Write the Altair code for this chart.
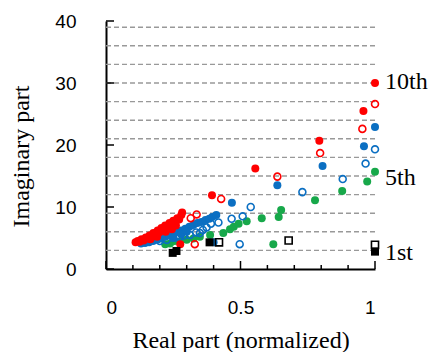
import altair as alt
import pandas as pd

# ---- data ----
red_filled_x = [0.110, 0.118, 0.125, 0.132, 0.140, 0.148, 0.155, 0.162, 0.165, 0.170, 0.176, 0.184,
                0.190, 0.192, 0.198, 0.206, 0.212, 0.220, 0.222, 0.228, 0.236, 0.243, 0.245, 0.250,
                0.258, 0.260, 0.265, 0.272, 0.280, 0.283, 0.276, 0.394, 0.555, 0.793, 0.957, 1.0]
red_filled_y = [4.3, 4.5, 4.4, 4.8, 4.6, 5.1, 4.9, 5.4, 4.8, 5.2, 5.8, 5.5,
                5.2, 6.2, 5.9, 6.6, 6.3, 7.0, 6.0, 6.7, 7.4, 7.1, 6.4, 7.8,
                7.5, 7.0, 8.2, 8.0, 8.7, 9.1, 4.0, 11.9, 16.2, 20.7, 25.5, 30.0]

red_open_x = [0.330, 0.315, 0.337, 0.428, 0.637, 0.796, 0.953, 1.0]
red_open_y = [4.0, 8.2, 8.8, 11.3, 14.9, 18.7, 22.6, 26.6]

blue_filled_x = [0.130, 0.145, 0.160, 0.175, 0.190, 0.205, 0.220, 0.235, 0.250, 0.265, 0.280, 0.295,
                 0.310, 0.325, 0.340, 0.355, 0.370, 0.384, 0.395, 0.410, 0.280, 0.250, 0.300, 0.400,
                 0.468, 0.637, 0.805, 0.959, 1.0]
blue_filled_y = [4.1, 4.2, 4.3, 4.5, 4.7, 4.9, 5.2, 5.4, 5.7, 6.0, 6.2, 6.5,
                 6.8, 7.1, 7.4, 7.6, 7.9, 8.1, 8.4, 8.7, 5.6, 5.0, 6.0, 4.3,
                 10.7, 13.5, 16.6, 19.8, 22.9]

blue_open_x = [0.200, 0.226, 0.260, 0.275, 0.290, 0.312, 0.335, 0.349, 0.360, 0.374, 0.390, 0.418,
               0.467, 0.497, 0.508, 0.538, 0.730, 0.880, 0.965, 1.0]
blue_open_y = [4.5, 4.7, 5.1, 5.2, 5.4, 5.5, 5.9, 5.8, 6.3, 6.7, 7.3, 7.5,
               8.1, 4.0, 8.5, 10.0, 12.4, 14.5, 17.0, 19.3]

green_filled_x = [0.220, 0.238, 0.255, 0.275, 0.300, 0.325, 0.349, 0.387, 0.436, 0.461, 0.475, 0.493,
                  0.523, 0.579, 0.622, 0.642, 0.651, 0.777, 0.878, 0.971, 1.0]
green_filled_y = [4.0, 4.1, 4.5, 4.4, 4.7, 4.9, 5.2, 5.5, 5.8, 6.4, 6.8, 7.3,
                  7.7, 8.2, 4.0, 8.4, 9.5, 11.1, 12.6, 14.1, 15.7]

black_filled_x = [0.248, 0.262, 0.385, 1.0]
black_filled_y = [2.6, 2.9, 4.3, 2.8]

black_open_x = [0.420, 0.679, 1.0]
black_open_y = [4.3, 4.6, 3.9]

grid_y = [3, 6, 9, 12, 15, 18, 21, 24, 27, 30, 33, 36, 39]
x_major = [0, 0.5, 1]
x_minor = [0.1, 0.2, 0.3, 0.4, 0.6, 0.7, 0.8, 0.9]
y_major = [0, 10, 20, 30, 40]

label_text = ["10th", "5th", "1st"]
label_y = [30.1, 14.6, 2.6]
label_x = [1.0, 1.0, 1.0]

W, H = 269, 248
SANS = "Liberation Sans"
SERIF = "Liberation Serif"
RED, BLUE, GREEN = "#ff0000", "#0b6fc2", "#17a84a"

xs = alt.Scale(domain=[0, 1], nice=False, zero=False)
ys = alt.Scale(domain=[0, 40], nice=False, zero=False)

def df(x, y):
    return pd.DataFrame({"x": x, "y": y})

xax = alt.Axis(values=x_major, labelExpr="'' + datum.value", ticks=False, grid=False,
               domainColor="black", domainWidth=2, labelFont=SANS, labelFontSize=19,
               labelColor="black", labelPadding=29, title="Real part (normalized)",
               titleFont=SERIF, titleFontSize=24, titleFontWeight="normal", titleColor="black",
               titleBaseline="alphabetic", titleY=78, titleX=W / 2, titleAlign="center")
yax = alt.Axis(values=y_major, labelExpr="'' + datum.value", ticks=False, grid=False,
               domainColor="black", domainWidth=2, labelFont=SANS, labelFontSize=19,
               labelColor="black", labelPadding=30, title="Imaginary part", titleFont=SERIF,
               titleFontSize=24, titleFontWeight="normal", titleColor="black", titleAngle=270,
               titleBaseline="alphabetic", titleX=-78, titleY=135, titleAlign="center")

def X(f):
    return alt.X(f, scale=xs, axis=xax)

def Y(f):
    return alt.Y(f, scale=ys, axis=yax)

grid = alt.Chart(pd.DataFrame({"g": grid_y})).mark_rule(
    color="#999999", strokeWidth=1.4, strokeDash=[5, 3]
).encode(y=Y("g:Q"))

green_f = alt.Chart(df(green_filled_x, green_filled_y)).mark_circle(
    color=GREEN, opacity=1, size=64).encode(x=X("x:Q"), y=Y("y:Q"))
blue_o = alt.Chart(df(blue_open_x, blue_open_y)).mark_point(
    shape="circle", filled=False, color=BLUE, opacity=1, size=48, strokeWidth=1.6
).encode(x=X("x:Q"), y=Y("y:Q"))
blue_f = alt.Chart(df(blue_filled_x, blue_filled_y)).mark_circle(
    color=BLUE, opacity=1, size=64).encode(x=X("x:Q"), y=Y("y:Q"))
red_o = alt.Chart(df(red_open_x, red_open_y)).mark_point(
    shape="circle", filled=False, color=RED, opacity=1, size=48, strokeWidth=1.6
).encode(x=X("x:Q"), y=Y("y:Q"))
red_f = alt.Chart(df(red_filled_x, red_filled_y)).mark_circle(
    color=RED, opacity=1, size=64).encode(x=X("x:Q"), y=Y("y:Q"))
black_f = alt.Chart(df(black_filled_x, black_filled_y)).mark_square(
    color="black", opacity=1, size=64).encode(x=X("x:Q"), y=Y("y:Q"))
black_o = alt.Chart(df(black_open_x, black_open_y)).mark_point(
    shape="square", filled=False, color="black", opacity=1, size=50, strokeWidth=1.6
).encode(x=X("x:Q"), y=Y("y:Q"))

xmaj = alt.Chart(pd.DataFrame({"t": x_major})).mark_rule(color="black", strokeWidth=1.5).encode(
    x=X("t:Q"), y=alt.value(H - 8), y2=alt.value(H))
xmin = alt.Chart(pd.DataFrame({"t": x_minor})).mark_rule(color="black", strokeWidth=1.5).encode(
    x=X("t:Q"), y=alt.value(H - 4), y2=alt.value(H))
ymaj = alt.Chart(pd.DataFrame({"t": y_major})).mark_rule(color="black", strokeWidth=1.5).encode(
    y=Y("t:Q"), x=alt.value(0), x2=alt.value(8))

labels = alt.Chart(pd.DataFrame({"x": label_x, "y": label_y, "t": label_text})).mark_text(
    font=SERIF, fontSize=24, align="left", baseline="middle", dx=10, color="black"
).encode(x=X("x:Q"), y=Y("y:Q"), text="t:N")

chart = alt.layer(
    grid, green_f, blue_o, blue_f, red_o, red_f, black_f, black_o, xmaj, xmin, ymaj, labels
).properties(
    width=W, height=H,
    padding={"left": 106, "top": 21, "right": 53, "bottom": 83},
    autosize=alt.AutoSizeParams(type="none"),
    background="white",
).configure_view(stroke=None)

chart.save("out.html", embed_options={"renderer": "svg", "actions": False})
